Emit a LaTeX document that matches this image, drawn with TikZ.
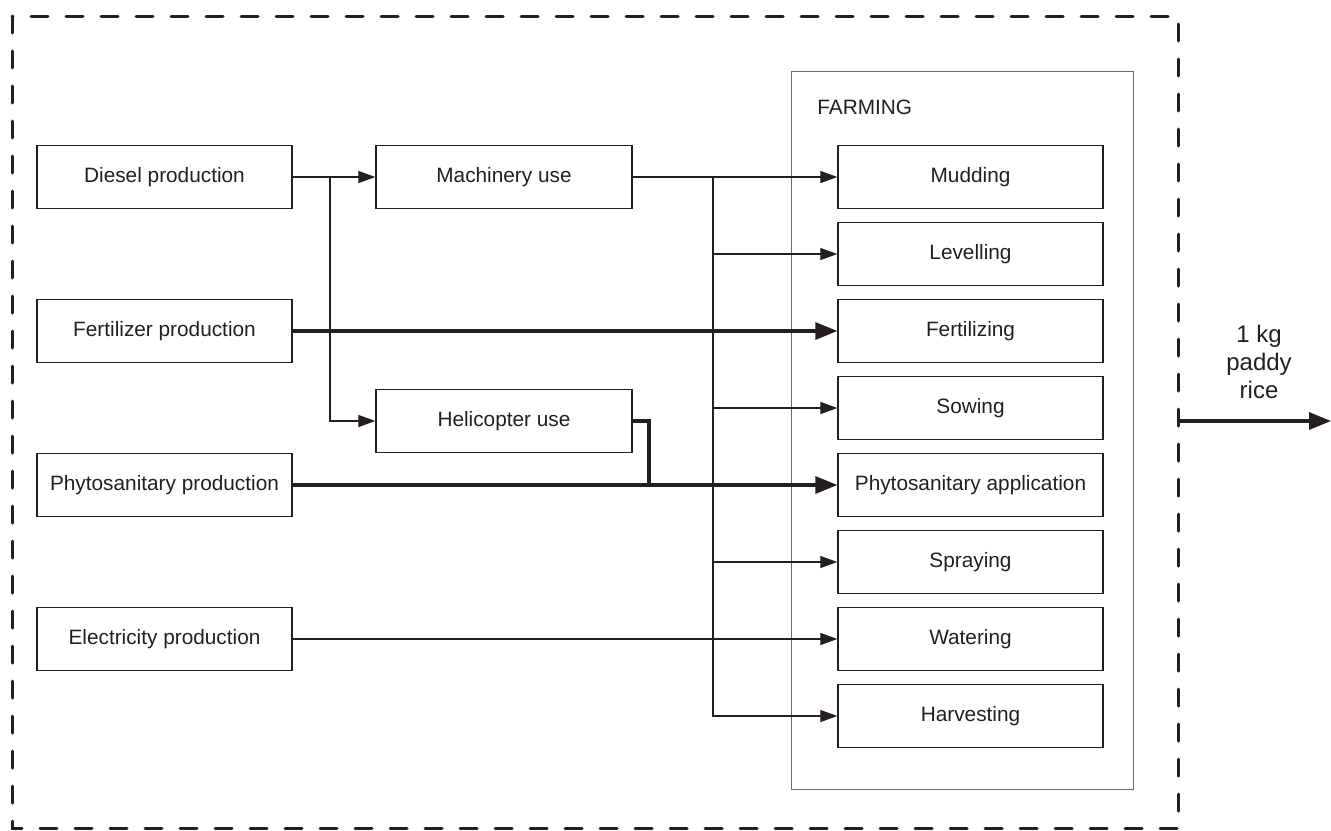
\documentclass[tikz,border=0pt]{standalone}
\usepackage{fontspec}
\setmainfont{Liberation Sans}
\usetikzlibrary{arrows.meta}
\definecolor{lineGray}{RGB}{35,31,32}
\definecolor{frameGray}{RGB}{105,105,105}
\newcommand\boxLineWidth{0.65pt}
\newcommand\thinArrowWidth{0.6pt}
\newcommand\thickArrowWidth{1.6pt}
\newcommand\borderLineWidth{1.5pt}
\newcommand\sourceWidth{127.5pt}
\newcommand\stepWidth{132.5pt}
\newcommand\boxHeight{31.5pt}
\newcommand\boxFont{\fontsize{10.4}{12}\selectfont}

\tikzset{
  processbox/.style={draw=lineGray, line width=\boxLineWidth, shape=rectangle, minimum height=\boxHeight, inner sep=0pt, anchor=center, font=\boxFont, text=lineGray},
  thinflow/.style={draw=lineGray, line width=\thinArrowWidth, -{Triangle[length=8.5pt,width=6pt]}},
  thickflow/.style={draw=lineGray, line width=\thickArrowWidth, -{Triangle[length=11pt,width=8.5pt]}},
  thinline/.style={draw=lineGray, line width=\thinArrowWidth},
  thickline/.style={draw=lineGray, line width=\thickArrowWidth, line join=miter}
}

\begin{document}
\begin{tikzpicture}[x=0.5pt, y=-0.5pt]

    \useasboundingbox (0,0) rectangle (1331,830);

    % system boundary
    \draw [draw=lineGray, line width=\borderLineWidth, line cap=round, dash pattern=on 8.5pt off 9pt] (12,16) rectangle (1178,828);

    % farming stage
    \node [draw=frameGray, line width=0.5pt, shape=rectangle, minimum width=171pt, minimum height=359pt, anchor=center] (Stage_Farming) at (962,430) {};
    \node [font=\boxFont, text=lineGray, anchor=west, inner sep=0pt] (Label_Farming) at (817,107) {FARMING};

    % inputs
    \node [processbox, minimum width=\sourceWidth] (Box_Diesel) at (164.5,177) {Diesel production};
    \node [processbox, minimum width=\sourceWidth] (Box_Fertilizer) at (164.5,331) {Fertilizer production};
    \node [processbox, minimum width=\sourceWidth] (Box_Phyto) at (164.5,485) {Phytosanitary production};
    \node [processbox, minimum width=\sourceWidth] (Box_Electricity) at (164.5,639) {Electricity production};
    \node [processbox, minimum width=128pt] (Box_Machinery) at (504,177) {Machinery use};
    \node [processbox, minimum width=128pt] (Box_Helicopter) at (504,421) {Helicopter use};

    % farming steps
    \foreach \name/\text [count=\i from 0] in {Mudding/Mudding, Levelling/Levelling, Fertilizing/Fertilizing, Sowing/Sowing, PhytoApp/Phytosanitary application, Spraying/Spraying, Watering/Watering, Harvesting/Harvesting}{
        \node [processbox, minimum width=\stepWidth] (Step_\name) at (970.5,177+77*\i) {\text};
    }

    % diesel to machinery and helicopter
    \coordinate (Branch_Diesel) at (330,177);
    \draw [thinflow] (Box_Diesel.east) -- (Box_Machinery.west);
    \draw [thinflow] (Branch_Diesel) |- (Box_Helicopter.west);

    % machinery to farming steps
    \coordinate (Branch_Machinery) at (713,177);
    \draw [thinflow] (Box_Machinery.east) -- (Step_Mudding.west);
    \foreach \name in {Levelling, Sowing, Spraying, Harvesting}{
        \draw [thinflow] (Branch_Machinery) |- (Step_\name.west);
    }

    % other inputs
    \draw [thickflow] (Box_Fertilizer.east) -- (Step_Fertilizing.west);
    \draw [thickflow] (Box_Phyto.east) -- (Step_PhytoApp.west);
    \coordinate (Join_Helicopter) at (649,485);
    \draw [thickline] (Box_Helicopter.east) -| (Join_Helicopter);
    \draw [thinflow] (Box_Electricity.east) -- (Step_Watering.west);

    % output
    \coordinate (Output_Start) at (1178,421);
    \coordinate (Output_End) at (1331,421);
    \draw [thickflow] (Output_Start) -- (Output_End);
    \node [font=\fontsize{12}{14}\selectfont, text=lineGray, align=center, anchor=center] (Label_Output) at (1259,362) {1 kg\\paddy\\rice};

\end{tikzpicture}
\end{document}
